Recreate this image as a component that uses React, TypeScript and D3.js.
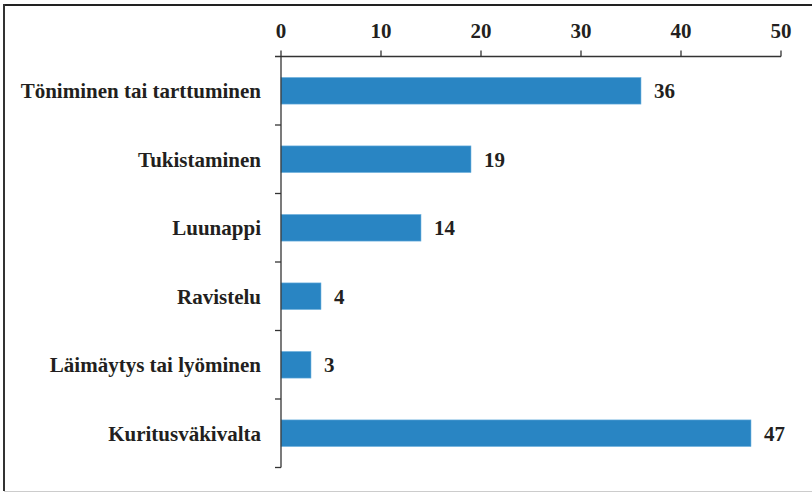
import React, { useEffect, useRef } from "react";
import * as d3 from "d3";

const categories = [
  "Töniminen tai tarttuminen",
  "Tukistaminen",
  "Luunappi",
  "Ravistelu",
  "Läimäytys tai lyöminen",
  "Kuritusväkivalta",
];
const values = [36, 19, 14, 4, 3, 47];
const tickValues = [0, 10, 20, 30, 40, 50];

const W = 812;
const H = 492;

export default function App() {
  const ref = useRef<SVGSVGElement>(null);

  useEffect(() => {
    const svg = d3.select(ref.current);
    svg.selectAll("*").remove();
    const font = "'Liberation Serif', 'Times New Roman', serif";
    const ink = "#231f20";

    const x = d3.scaleLinear().domain([0, 50]).range([281, 781]);
    const y = d3.scaleBand<string>().domain(categories).range([56.5, 467.5]).paddingInner(0.61).paddingOuter(0.305);
    const band = d3.scaleBand<string>().domain(categories).range([56.5, 467.5]);

    // frame
    svg.append("rect").attr("x", 0).attr("y", 0).attr("width", W).attr("height", H).attr("fill", "#fff");
    svg.append("line").attr("x1", 4).attr("x2", W).attr("y1", 5).attr("y2", 5).attr("stroke", "#222").attr("stroke-width", 2);
    svg.append("line").attr("x1", 4).attr("x2", 4).attr("y1", 4).attr("y2", H - 1).attr("stroke", "#333").attr("stroke-width", 2);
    svg.append("line").attr("x1", 4).attr("x2", W).attr("y1", 491.5).attr("y2", 491.5).attr("stroke", "#ccc").attr("stroke-width", 1);

    // bars
    svg.append("g").selectAll("rect").data(values).join("rect")
      .attr("x", x(0))
      .attr("y", (_, i) => y(categories[i])!)
      .attr("width", (d) => x(d) - x(0))
      .attr("height", y.bandwidth())
      .attr("fill", "#2985c3")
      .attr("stroke", "#7ab8e2")
      .attr("stroke-width", 0.6);

    // value labels
    svg.append("g").selectAll("text").data(values).join("text")
      .attr("x", (d) => x(d) + 13)
      .attr("y", (_, i) => y(categories[i])! + y.bandwidth() / 2)
      .attr("dy", "0.36em")
      .attr("font-family", font)
      .attr("font-weight", "bold")
      .attr("font-size", 21)
      .attr("fill", ink)
      .text((d) => String(d));

    // top axis
    const gx = svg.append("g").attr("transform", "translate(0,56.5)");
    gx.append("line").attr("x1", 275).attr("x2", x(50)).attr("y1", 0).attr("y2", 0).attr("stroke", "#333").attr("stroke-width", 1.3);
    gx.selectAll("line.t").data(tickValues).join("line").attr("class", "t")
      .attr("x1", (d) => x(d)).attr("x2", (d) => x(d)).attr("y1", 0).attr("y2", -6)
      .attr("stroke", "#333").attr("stroke-width", 1.3);
    gx.selectAll("text").data(tickValues).join("text")
      .attr("x", (d) => x(d))
      .attr("y", -19)
      .attr("text-anchor", "middle")
      .attr("font-family", font)
      .attr("font-weight", "bold")
      .attr("font-size", 21)
      .attr("fill", ink)
      .text((d) => String(d));

    // left axis
    const gy = svg.append("g");
    gy.append("line").attr("x1", 281).attr("x2", 281).attr("y1", 56.5).attr("y2", 467.5).attr("stroke", "#333").attr("stroke-width", 1.3);
    const bounds = categories.map((c) => band(c)! + band.bandwidth());
    gy.selectAll("line.t").data(bounds).join("line").attr("class", "t")
      .attr("x1", 275).attr("x2", 281).attr("y1", (d) => d).attr("y2", (d) => d)
      .attr("stroke", "#333").attr("stroke-width", 1.3);
    gy.selectAll("text").data(categories).join("text")
      .attr("x", 261)
      .attr("y", (d) => band(d)! + band.bandwidth() / 2)
      .attr("dy", "0.36em")
      .attr("text-anchor", "end")
      .attr("font-family", font)
      .attr("font-weight", "bold")
      .attr("font-size", 21)
      .attr("fill", ink)
      .text((d) => d);
  }, []);

  return (
    <svg
      ref={ref}
      width={W}
      height={H}
      style={{ position: "absolute", left: 0, top: 0, display: "block" }}
    />
  );
}
